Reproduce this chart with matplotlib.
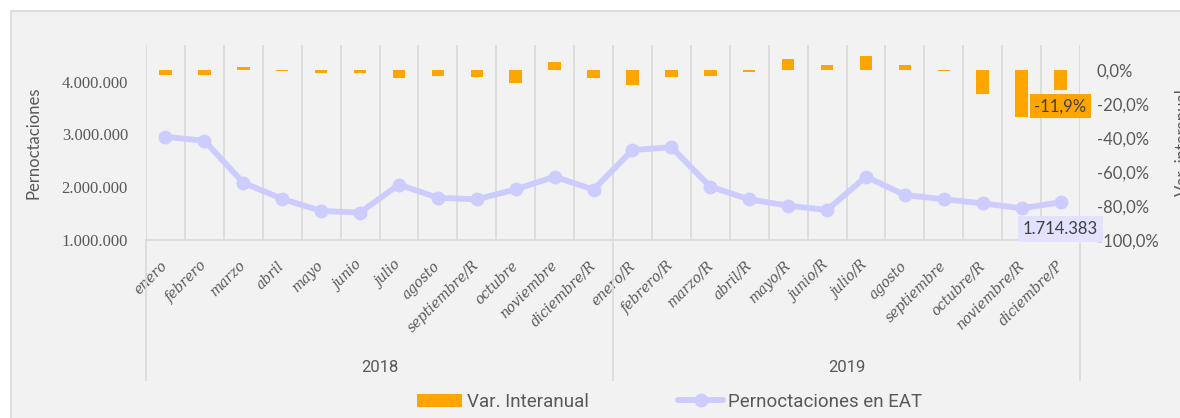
import matplotlib
matplotlib.use("Agg")
import matplotlib.pyplot as plt
from matplotlib.patches import Rectangle
from matplotlib.lines import Line2D
import numpy as np

# data
meses = ["enero", "febrero", "marzo", "abril", "mayo", "junio", "julio",
         "agosto", "septiembre/R", "octubre", "noviembre", "diciembre/R",
         "enero/R", "febrero/R", "marzo/R", "abril/R", "mayo/R", "junio/R",
         "julio/R", "agosto", "septiembre", "octubre/R", "noviembre/R",
         "diciembre/P"]
anios = ["2018", "2019"]
pernoctaciones = [2956000, 2880000, 2085000, 1780000, 1550000, 1520000,
                  2050000, 1800000, 1770000, 1960000, 2200000, 1955000,
                  2705000, 2757000, 2010000, 1771000, 1650000, 1568000,
                  2200000, 1853000, 1771000, 1695000, 1600000, 1714383]
var_interanual = [-3.2, -3.2, 2.0, -0.5, -2.0, -2.0, -4.6, -3.8, -4.4, -7.5,
                  4.6, -5.0, -8.7, -4.4, -3.6, -1.2, 6.5, 2.8, 8.3, 3.0,
                  -0.6, -13.9, -27.6, -11.9]

W, H = 1180, 418
BG = "#f2f2f2"
GRID = "#d9d9d9"
TXT = "#595959"
ORANGE = "#ffa500"
LAV = "#ccccff"
SERIF = ["Liberation Serif", "DejaVu Serif"]
XSERIF = ["DejaVu Serif"]
SANS = ["Lato", "DejaVu Sans"]
NARROW = ["Liberation Sans Narrow", "Roboto", "DejaVu Sans"]

plt.rcParams["font.family"] = SANS

fig = plt.figure(figsize=(W / 100, H / 100), dpi=100, facecolor="white")
fig.add_artist(Rectangle((11 / W, -0.1), 1.2, 1 - 11 / H + 0.1,
                         transform=fig.transFigure, facecolor=BG,
                         edgecolor=GRID, lw=1.2, zorder=0))

x0, x1, ytop, ybot = 146, 1080, 45, 240
ax = fig.add_axes([x0 / W, 1 - ybot / H, (x1 - x0) / W, (ybot - ytop) / H])
ax.set_facecolor("none")
ax2 = ax.twinx()
ax.set_zorder(2)
ax2.set_zorder(1)
ax.patch.set_visible(False)

x = np.arange(len(meses))

# variacion interanual -> eje secundario
bars = ax2.bar(x, var_interanual, width=0.32, color=ORANGE, zorder=3,
               label="Var. Interanual")
ax2.set_ylim(-100, 14.7)
ax2.set_yticks(np.arange(-100, 1, 20))
ax2.set_yticklabels([f"{v:.1f}%".replace(".", ",") for v in np.arange(-100, 1, 20)])

# pernoctaciones -> eje principal
line, = ax.plot(x, pernoctaciones, color=LAV, lw=4.2, marker="o", ms=9,
                solid_capstyle="round", zorder=4, label="Pernoctaciones en EAT")
ax.set_ylim(1000000, 4695000)
ax.set_yticks([1000000, 2000000, 3000000, 4000000])
ax.set_yticklabels([f"{v:,}".replace(",", ".") for v in [1000000, 2000000, 3000000, 4000000]])
ax.set_xlim(-0.5, len(meses) - 0.5)

for a in (ax, ax2):
    for s in a.spines.values():
        s.set_visible(False)
ax.spines["bottom"].set_visible(True)
ax.spines["bottom"].set_color(GRID)
ax.spines["bottom"].set_linewidth(1.2)

for b in np.arange(-0.5, len(meses), 1):
    ax2.axvline(b, color=GRID, lw=1.2, zorder=0)

ax.tick_params(axis="y", length=0, pad=13, labelsize=12, labelcolor=TXT)
for t in ax.get_yticklabels():
    t.set_fontfamily(SERIF)
ax2.tick_params(axis="y", length=0, pad=12, labelsize=12, labelcolor=TXT)

ax.set_xticks(x)
ax.set_xticklabels(meses, rotation=45, ha="right", va="center",
                   rotation_mode="anchor", fontstyle="italic",
                   fontfamily=XSERIF, fontsize=10, color=TXT)
ax.tick_params(axis="x", length=0, pad=17)

# separadores de año bajo el eje
tr = ax.get_xaxis_transform()
ylow = -(380 - ybot) / (ybot - ytop)
for b in [-0.5, 11.5, 23.5]:
    ax.add_artist(Line2D([b, b], [0, ylow], transform=tr, color=GRID,
                         lw=1.2, clip_on=False))
for i, anio in enumerate(anios):
    ax.text(5.5 + 12 * i, -(367 - ybot) / (ybot - ytop), anio, transform=tr,
            ha="center", va="center", fontsize=12, color=TXT,
            fontfamily=NARROW)

fig.text(34 / W, 1 - 142.5 / H, "Pernoctaciones", rotation=90, ha="center",
         va="center", fontsize=12, color=TXT)
fig.text(1175 / W, 1 - 142.5 / H, "Var. interanual", rotation=90, ha="left",
         va="center", fontsize=12, color=TXT)

# etiquetas del ultimo dato
ax2.annotate("-11,9%", (x[-1], var_interanual[-1]), xytext=(0, -16),
             textcoords="offset pixels", ha="center", va="center",
             fontsize=12, color="#404040", zorder=6,
             bbox=dict(boxstyle="square,pad=0.25", fc=ORANGE, ec="none"))
ax.annotate("1.714.383", (x[-1], pernoctaciones[-1]), xytext=(0, -27),
            textcoords="offset pixels", ha="center", va="center",
            fontsize=12, color="#404040", zorder=6,
            bbox=dict(boxstyle="square,pad=0.3", fc="#e2e2ff", ec="none"))

fig.legend(handles=[bars, line], loc="center", bbox_to_anchor=(670 / W, 1 - 402 / H),
           ncol=2, frameon=False, handlelength=2.4, handletextpad=0.27,
           columnspacing=4.75, prop={"family": NARROW, "size": 13.5},
           labelcolor=TXT)

fig.savefig("out.png", dpi=100, facecolor="white")
